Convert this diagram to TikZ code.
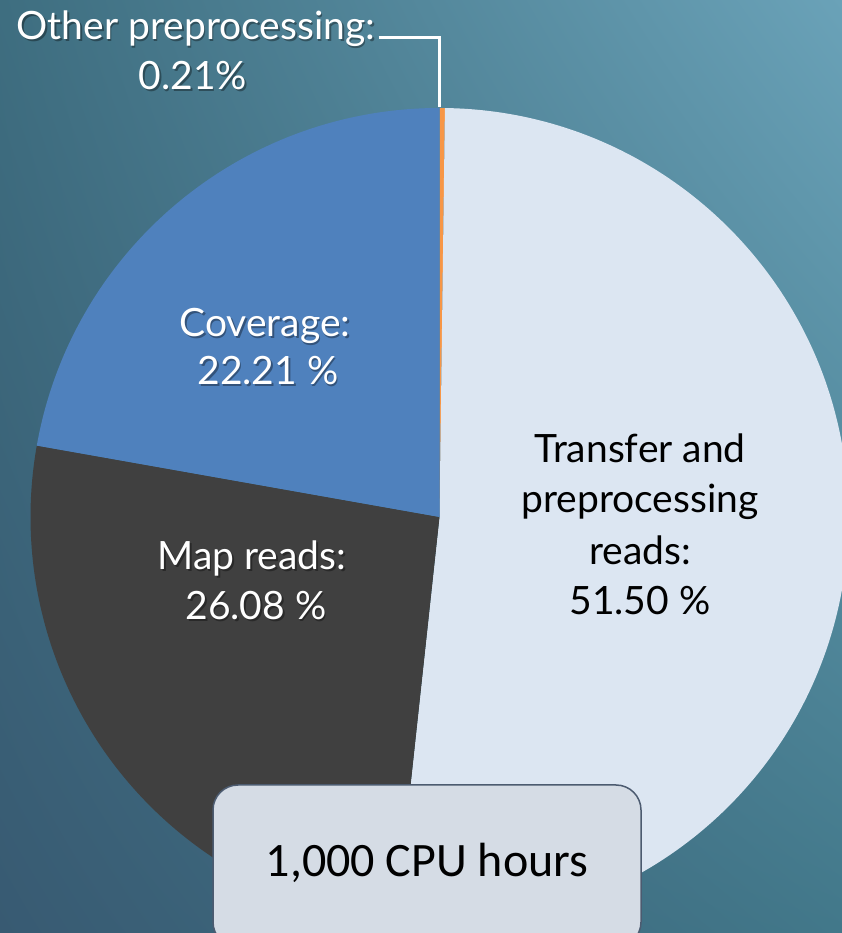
\documentclass[tikz,border=0pt]{standalone}
\usepackage{fontspec}
\usetikzlibrary{shadings}
\setmainfont{Lato}
\newfontfamily\boxfont{Carlito}
\definecolor{bgUL}{HTML}{3E6E80}
\definecolor{bgUR}{HTML}{6AA2B8}
\definecolor{bgLL}{HTML}{385A72}
\definecolor{bgLR}{HTML}{42788A}
\definecolor{transfer}{HTML}{DCE6F2}
\definecolor{mapc}{HTML}{404040}
\definecolor{cov}{HTML}{4F81BD}
\definecolor{other}{HTML}{F79646}
\definecolor{boxfill}{HTML}{D5DCE5}
\definecolor{boxline}{HTML}{4C5B70}
\tikzset{
  lbl/.style={anchor=base, inner sep=0pt, font=\fontsize{39}{50}\selectfont},
  wlbl/.style={lbl, text=white},
  shadowlbl/.style={lbl, text=black, opacity=0.35},
  blbl/.style={lbl, text=black},
}
\newcommand{\wtext}[3]{%
  \node[shadowlbl] at ([shift={(1.5,-1.5)}]#1) {#3};
  \node[wlbl] (#2) at (#1) {#3};}
\begin{document}
\begin{tikzpicture}[x=1pt,y=1pt]
\useasboundingbox (0,0) rectangle (842,933);
\clip (0,0) rectangle (842,933);
\shade[upper left=bgUL, upper right=bgUR, lower left=bgLL, lower right=bgLR] (0,0) rectangle (842,933);
\coordinate (c) at (439.5,416);
\def\R{409}
\fill[other] (c) -- ++(90:\R) arc[start angle=90, end angle=89.24, radius=\R] -- cycle;
\fill[transfer] (c) -- ++(89.24:\R) arc[start angle=89.24, end angle=-96.16, radius=\R] -- cycle;
\fill[mapc] (c) -- ++(-96.16:\R) arc[start angle=-96.16, end angle=-190.05, radius=\R] -- cycle;
\fill[cov] (c) -- ++(169.95:\R) arc[start angle=169.95, end angle=90, radius=\R] -- cycle;
% labels
\wtext{196,893}{o1}{Other preprocessing:}
\wtext{193,843}{o2}{0.21\%}
\coordinate (lk) at (439.5,893);
\coordinate (ltop) at (439.5,826);
\draw[white, line width=3pt] (o1.base east) ++(3,2) coordinate (ls) -- (ls -| lk) -- (ltop);
\wtext{265,596}{c1}{Coverage:}
\wtext{268,548}{c2}{22.21 \%}
\wtext{252,363}{m1}{Map reads:}
\wtext{256,313}{m2}{26.08 \%}
\node[blbl] (t1) at (640,470) {Transfer and};
\node[blbl] (t2) at (640,420) {preprocessing};
\node[blbl] (t3) at (640,368) {reads:};
\node[blbl] (t4) at (640,318) {51.50 \%};
% box
\node[draw=boxline, line width=1.5pt, fill=boxfill, rounded corners=25pt,
      minimum width=428pt, minimum height=162pt, inner sep=0pt] (box) at (427,67) {};
\node[anchor=base, inner sep=0pt, font=\boxfont\fontsize{48}{56}\selectfont] (cpu) at (427,56) {1,000 CPU hours};
\end{tikzpicture}
\end{document}
